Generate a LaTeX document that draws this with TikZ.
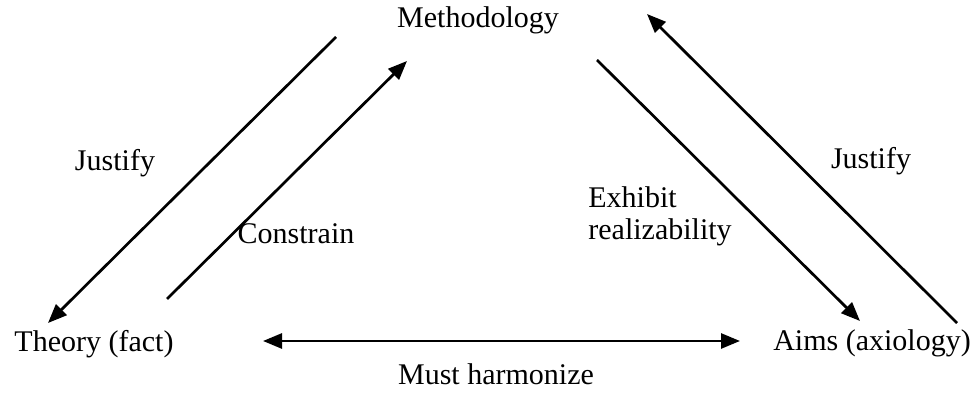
\documentclass[tikz,border=0pt]{standalone}
\usepackage{fontspec}
\setmainfont{Liberation Serif}
\usetikzlibrary{arrows.meta}

\begin{document}
\begin{tikzpicture}[x=0.5pt,y=-0.5pt,
	lbl/.style={inner sep=0pt, anchor=base, font=\fontsize{15}{16}\selectfont},
	tip/.tip={Triangle[length=9.5pt,width=7.5pt]},
	arr/.style={-tip, line width=1.35pt}]
	\useasboundingbox (0,0) rectangle (980,394);

	\node[lbl] (meth) at (478,28)  {Methodology};
	\node[lbl] (theo) at (94,352)  {Theory (fact)};
	\node[lbl] (aims) at (872,351) {Aims (axiology)};
	\node[lbl] (harm) at (496,385) {Must harmonize};

	\node[lbl] (jl) at (115,171) {Justify};
	\node[lbl] (con) at (296,244) {Constrain};
	\node[lbl, anchor=base west, align=left] (exh) at (588,240) {Exhibit\\realizability};
	\node[lbl] (jr) at (871,169) {Justify};

	\coordinate (jls) at (336,37);
	\coordinate (jle) at (48,323);
	\coordinate (cs) at (167,299);
	\coordinate (ce) at (407,61);
	\coordinate (es) at (597,60);
	\coordinate (ee) at (860,321);
	\coordinate (jrs) at (957,323);
	\coordinate (jre) at (647,14);
	\coordinate (hl) at (263,341);
	\coordinate (hr) at (740,341);

	\draw[arr] (jls) -- (jle);
	\draw[arr] (cs) -- (ce);
	\draw[arr] (es) -- (ee);
	\draw[arr] (jrs) -- (jre);
	\draw[arr, tip-tip] (hl) -- (hr);

\end{tikzpicture}
\end{document}
